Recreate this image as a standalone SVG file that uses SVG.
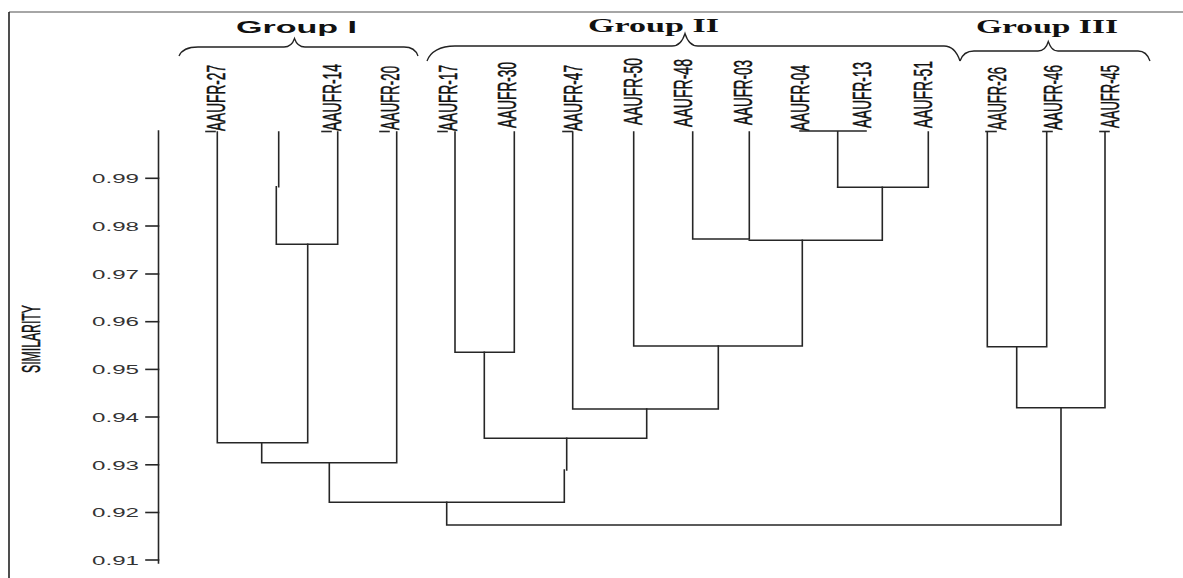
<svg xmlns="http://www.w3.org/2000/svg" width="1183" height="578" viewBox="0 0 1183 578">
<style>
.ln{stroke:#262626;stroke-width:1.6;fill:none;stroke-linecap:square}
.br{stroke:#222;stroke-width:1.3;fill:none}
.lbl{font-family:"Liberation Sans",Arial,sans-serif;font-size:26px;fill:#111;stroke:#111;stroke-width:0.5}
.tk{font-family:"Liberation Sans",Arial,sans-serif;font-size:13px;fill:#333}
.g1{font-family:"Liberation Sans",Arial,sans-serif;font-weight:bold;font-size:17px;fill:#111}
.g2{font-family:"Liberation Serif","Times New Roman",serif;font-weight:bold;font-size:18px;fill:#111}
</style>
<rect width="1183" height="578" fill="#fff"/>
<g id="frame">
<line x1="9" y1="12" x2="1183" y2="12" stroke="#888" stroke-width="1.5"/>
<line x1="9" y1="12" x2="9" y2="578" stroke="#222" stroke-width="1.6"/>
</g>
<g id="axis">
<line class="ln" x1="158.5" y1="131" x2="158.5" y2="563"/>
<g class="ln">
<line x1="146" y1="178.3" x2="158.5" y2="178.3"/>
<line x1="146" y1="226" x2="158.5" y2="226"/>
<line x1="146" y1="274" x2="158.5" y2="274"/>
<line x1="146" y1="321.7" x2="158.5" y2="321.7"/>
<line x1="146" y1="369.4" x2="158.5" y2="369.4"/>
<line x1="146" y1="417" x2="158.5" y2="417"/>
<line x1="146" y1="464.8" x2="158.5" y2="464.8"/>
<line x1="146" y1="512.5" x2="158.5" y2="512.5"/>
<line x1="146" y1="560" x2="158.5" y2="560"/>
</g>
<text class="tk" x="92" y="183" textLength="47" lengthAdjust="spacingAndGlyphs">0.99</text>
<text class="tk" x="92" y="230.7" textLength="47" lengthAdjust="spacingAndGlyphs">0.98</text>
<text class="tk" x="92" y="278.7" textLength="47" lengthAdjust="spacingAndGlyphs">0.97</text>
<text class="tk" x="92" y="326.4" textLength="47" lengthAdjust="spacingAndGlyphs">0.96</text>
<text class="tk" x="92" y="374.1" textLength="47" lengthAdjust="spacingAndGlyphs">0.95</text>
<text class="tk" x="92" y="421.7" textLength="47" lengthAdjust="spacingAndGlyphs">0.94</text>
<text class="tk" x="92" y="469.5" textLength="47" lengthAdjust="spacingAndGlyphs">0.93</text>
<text class="tk" x="92" y="517.2" textLength="47" lengthAdjust="spacingAndGlyphs">0.92</text>
<text class="tk" x="92" y="564.7" textLength="47" lengthAdjust="spacingAndGlyphs">0.91</text>
<text class="lbl" transform="translate(40,373) rotate(-90)" font-size="21" stroke-width="0.3" textLength="68" lengthAdjust="spacingAndGlyphs">SIMILARITY</text>
</g>
<g id="groups">
<g id="group1">
<path class="br" d="M179,56 C182,49 190,47 198,47 L284,47 C290,47 293,43 294.5,38.5 C296,43 299,47 305,47 L404,47 C411,47 416,50 418,56"/>
<text class="g1" x="236" y="33" textLength="121" lengthAdjust="spacingAndGlyphs">Group I</text>
</g>
<g id="group2">
<path class="br" d="M427,61 C430,52 440,46 455,46 L672,46 C679,46 683,40 685,33.5 C687,40 691,46 698,46 L944,46 C952,46 957,52 960,61"/>
<text class="g2" x="588" y="31.5" textLength="131" lengthAdjust="spacingAndGlyphs">Group II</text>
</g>
<g id="group3">
<path class="br" d="M960,61 C962,55 966,51 974,51 L1038,51 C1044,51 1047,46 1048.3,41.5 C1050,46 1052,51 1058,51 L1138,51 C1144,51 1148,55 1150,61"/>
<text class="g2" x="976" y="32.5" textLength="142" lengthAdjust="spacingAndGlyphs">Group III</text>
</g>
</g>
<g id="leaves">
<g id="leaf-AAUFR-27"><line class="ln" x1="206" y1="131.5" x2="215" y2="131.5"/><text class="lbl" transform="translate(225,131) rotate(-90)" textLength="66" lengthAdjust="spacingAndGlyphs">AAUFR-27</text></g>
<g id="leaf-AAUFR-14"><line class="ln" x1="322" y1="131.5" x2="331" y2="131.5"/><text class="lbl" transform="translate(341,131) rotate(-90)" textLength="67" lengthAdjust="spacingAndGlyphs">AAUFR-14</text></g>
<g id="leaf-AAUFR-20"><line class="ln" x1="380" y1="131.5" x2="389" y2="131.5"/><text class="lbl" transform="translate(399,130) rotate(-90)" textLength="64" lengthAdjust="spacingAndGlyphs">AAUFR-20</text></g>
<g id="leaf-AAUFR-17"><line class="ln" x1="438" y1="131.5" x2="447" y2="131.5"/><text class="lbl" transform="translate(457,131) rotate(-90)" textLength="66" lengthAdjust="spacingAndGlyphs">AAUFR-17</text></g>
<g id="leaf-AAUFR-30"><text class="lbl" transform="translate(516,128) rotate(-90)" textLength="66" lengthAdjust="spacingAndGlyphs">AAUFR-30</text></g>
<g id="leaf-AAUFR-47"><line class="ln" x1="563" y1="131.5" x2="572" y2="131.5"/><text class="lbl" transform="translate(582,131) rotate(-90)" textLength="66" lengthAdjust="spacingAndGlyphs">AAUFR-47</text></g>
<g id="leaf-AAUFR-50"><text class="lbl" transform="translate(642,125) rotate(-90)" textLength="67" lengthAdjust="spacingAndGlyphs">AAUFR-50</text></g>
<g id="leaf-AAUFR-48"><text class="lbl" transform="translate(692,127) rotate(-90)" textLength="68" lengthAdjust="spacingAndGlyphs">AAUFR-48</text></g>
<g id="leaf-AAUFR-03"><text class="lbl" transform="translate(752,125) rotate(-90)" textLength="65" lengthAdjust="spacingAndGlyphs">AAUFR-03</text></g>
<g id="leaf-AAUFR-04"><text class="lbl" transform="translate(809,131) rotate(-90)" textLength="66" lengthAdjust="spacingAndGlyphs">AAUFR-04</text></g>
<g id="leaf-AAUFR-13"><text class="lbl" transform="translate(871,128) rotate(-90)" textLength="66" lengthAdjust="spacingAndGlyphs">AAUFR-13</text></g>
<g id="leaf-AAUFR-51"><text class="lbl" transform="translate(932,128) rotate(-90)" textLength="67" lengthAdjust="spacingAndGlyphs">AAUFR-51</text></g>
<g id="leaf-AAUFR-26"><line class="ln" x1="986" y1="131.5" x2="996" y2="131.5"/><text class="lbl" transform="translate(1006,130) rotate(-90)" textLength="63" lengthAdjust="spacingAndGlyphs">AAUFR-26</text></g>
<g id="leaf-AAUFR-46"><line class="ln" x1="1043" y1="131.5" x2="1052" y2="131.5"/><text class="lbl" transform="translate(1062,130) rotate(-90)" textLength="65" lengthAdjust="spacingAndGlyphs">AAUFR-46</text></g>
<g id="leaf-AAUFR-45"><line class="ln" x1="1100" y1="131.5" x2="1109" y2="131.5"/><text class="lbl" transform="translate(1119,128) rotate(-90)" textLength="63" lengthAdjust="spacingAndGlyphs">AAUFR-45</text></g>
</g>
<g id="connectors" class="ln">
<path d="M217.3,132 V442.7 H307.7 V244.3"/>
<path d="M278.7,132 V186.7 M276.3,186.7 V244.3 H337.7 V132"/>
<path d="M261.7,442.7 V462.7 H396.7 V132"/>
<path d="M329.3,462.7 V502.3 H564.3 V470 M566.7,470 V438.3"/>
<path d="M455,132 V352.3 H514.3 V132"/>
<path d="M484.3,352.3 V438.3 H646.7 V409"/>
<path d="M572.7,132 V409 H718.3 V346"/>
<path d="M633.7,132 V346 H802.3 V240.3"/>
<path d="M692.7,132 V239 H749.3 V132"/>
<path d="M749.3,240.3 H882.3 V187.3"/>
<path d="M837.7,187.3 H928.3 V132"/>
<path d="M837.7,187.3 V131 M800,131 H866"/>
<path d="M987.3,132 V346.7 H1046.7 V132"/>
<path d="M1016.7,346.7 V407.7 H1105 V132"/>
<path d="M1061,407.7 V525 H446.7 V502.3"/>
</g>
</svg>
